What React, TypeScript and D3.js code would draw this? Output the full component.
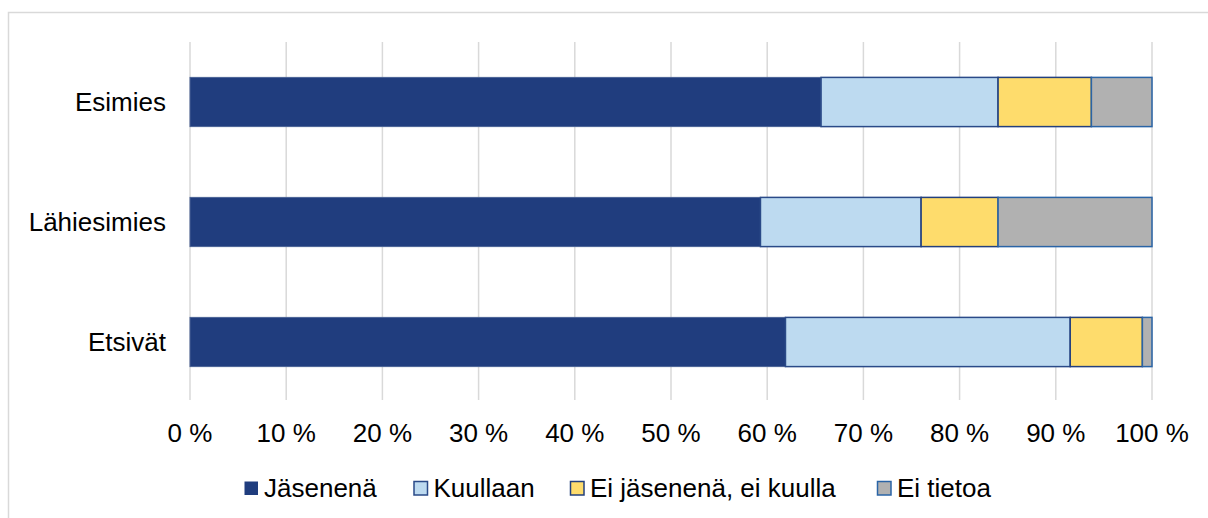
import React from "react";
import * as d3 from "d3";

const categories = ["Esimies", "Lähiesimies", "Etsivät"];
const seriesNames = ["Jäsenenä", "Kuullaan", "Ei jäsenenä, ei kuulla", "Ei tietoa"];
const jasenena = [65.6, 59.3, 61.9];
const kuullaan = [18.4, 16.7, 29.6];
const eiJasenena = [9.7, 8.0, 7.5];
const eiTietoa = [6.3, 16.0, 1.0];
const tickValues = [0, 10, 20, 30, 40, 50, 60, 70, 80, 90, 100];

const fills = ["#203D7E", "#BDDAF0", "#FEDC6C", "#B1B1B1"];
const strokes = ["#4A6396", "#2A4A88", "#23407E", "#2A64A6"];

export default function App() {
  const W = 1208, H = 518;
  const x = d3.scaleLinear().domain([0, 100]).range([190, 1152]);
  const y = d3.scaleBand().domain(categories).range([42, 402]).paddingInner(0.59).paddingOuter(0.295);
  const series = [jasenena, kuullaan, eiJasenena, eiTietoa];
  const rows = categories.map((c, i) => {
    const o: any = { cat: c };
    seriesNames.forEach((s, k) => (o[s] = series[k][i]));
    return o;
  });
  const stacked = d3.stack().keys(seriesNames)(rows);
  const font = "'Liberation Sans', Arial, sans-serif";
  const legendX = [244, 413.5, 570, 877];
  return (
    <svg width={W} height={H} style={{ position: "absolute", left: 0, top: 0 }}>
      <rect x={0} y={0} width={W} height={H} fill="#fff" />
      <rect x={8.5} y={12.5} width={1300} height={600} fill="#fff" stroke="#D9D9D9" strokeWidth={1.5} />
      {tickValues.map((t) => (
        <line key={t} x1={x(t)} x2={x(t)} y1={42} y2={400} stroke="#D9D9D9" strokeWidth={1.5} />
      ))}
      {stacked.map((s, k) =>
        s.map((d, i) => (
          <rect
            key={k + "-" + i}
            x={x(d[0])}
            y={y(categories[i])!}
            width={x(d[1]) - x(d[0])}
            height={y.bandwidth()}
            fill={fills[k]}
            stroke={strokes[k]}
            strokeWidth={k === 0 ? 1 : 1.5}
          />
        ))
      )}
      {categories.map((c) => (
        <text key={c} x={166} y={y(c)! + y.bandwidth() / 2 + 9} textAnchor="end" fontFamily={font} fontSize={26} fill="#000">
          {c}
        </text>
      ))}
      {tickValues.map((t) => (
        <text key={t} x={x(t)} y={442} textAnchor="middle" fontFamily={font} fontSize={26} fill="#000">
          {t + " %"}
        </text>
      ))}
      {seriesNames.map((s, k) => (
        <g key={s}>
          <rect x={legendX[k] + 0.5} y={481.5} width={13.5} height={13.5} fill={fills[k]} stroke={strokes[k]} strokeWidth={k === 0 ? 0 : 1.5} />
          <text x={legendX[k] + 20} y={497} fontFamily={font} fontSize={26} fill="#000">
            {s}
          </text>
        </g>
      ))}
    </svg>
  );
}
